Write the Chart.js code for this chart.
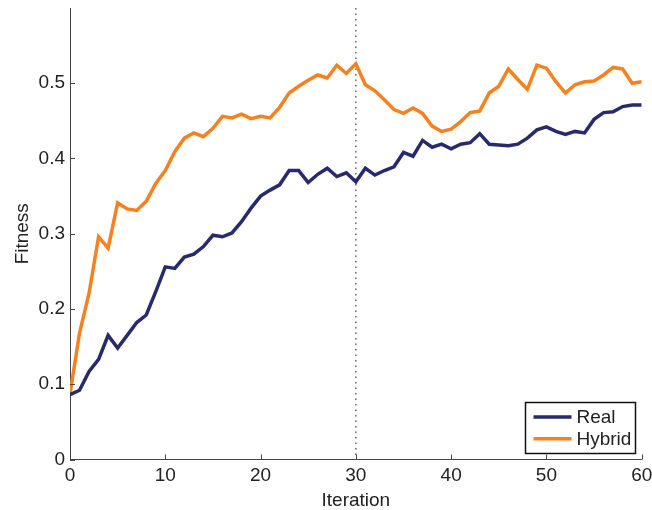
<!DOCTYPE html>
<html>
<head>
<meta charset="utf-8">
<script src="https://cdn.jsdelivr.net/npm/chart.js@4/dist/chart.umd.min.js"></script>
<style>
  html, body { margin: 0; padding: 0; background: #fff; }
  #wrap { width: 652px; height: 510px; }
</style>
</head>
<body>
<div id="wrap"><canvas id="fitnessChart" width="652" height="510"></canvas></div>
<script>
const iterations = [
    0, 1, 2, 3, 4, 5, 6, 7, 8, 9, 10,
    11, 12, 13, 14, 15, 16, 17, 18, 19, 20,
    21, 22, 23, 24, 25, 26, 27, 28, 29, 30,
    31, 32, 33, 34, 35, 36, 37, 38, 39, 40,
    41, 42, 43, 44, 45, 46, 47, 48, 49, 50,
    51, 52, 53, 54, 55, 56, 57, 58, 59, 60
];
const realFitness = [
    0.086, 0.092, 0.117, 0.133, 0.165, 0.148, 0.165, 0.182, 0.192, 0.223, 0.256,
    0.254, 0.269, 0.273, 0.283, 0.298, 0.296, 0.301, 0.316, 0.334, 0.350,
    0.358, 0.365, 0.384, 0.384, 0.368, 0.379, 0.387, 0.376, 0.381, 0.369,
    0.387, 0.378, 0.384, 0.389, 0.408, 0.403, 0.424, 0.415, 0.419, 0.413,
    0.419, 0.421, 0.433, 0.419, 0.418, 0.417, 0.419, 0.427, 0.438, 0.442,
    0.436, 0.432, 0.436, 0.434, 0.452, 0.461, 0.462, 0.469, 0.471, 0.471
];
const hybridFitness = [
    0.087, 0.168, 0.221, 0.296, 0.281, 0.341, 0.333, 0.331, 0.343, 0.367, 0.384,
    0.409, 0.427, 0.434, 0.429, 0.440, 0.456, 0.454, 0.459, 0.453, 0.456,
    0.454, 0.468, 0.487, 0.496, 0.504, 0.511, 0.507, 0.524, 0.513, 0.526,
    0.498, 0.490, 0.478, 0.465, 0.460, 0.467, 0.460, 0.443, 0.436, 0.439,
    0.449, 0.461, 0.463, 0.487, 0.496, 0.519, 0.505, 0.492, 0.524, 0.520,
    0.502, 0.487, 0.498, 0.502, 0.503, 0.511, 0.521, 0.519, 0.500, 0.502
];
const xTicks = [0, 10, 20, 30, 40, 50, 60];
const yTicks = [0, 0.1, 0.2, 0.3, 0.4, 0.5];
const markerIteration = 30;

const FONT = "'Liberation Sans', Arial, Helvetica, sans-serif";
const TEXT_COLOR = "#222";
const AXIS_COLOR = "#444";

const toPoints = (values) => values.map((v, i) => ({ x: iterations[i], y: v }));

// keep the plot box where the layout padding puts it (no room reserved for edge labels)
function noEdgePadding(scale) {
    scale.paddingTop = 0;
    scale.paddingBottom = 0;
    scale.paddingLeft = 0;
    scale.paddingRight = 0;
}

// inward tick marks, dotted marker line and the boxed legend
const decorations = {
    id: "decorations",
    beforeDatasetsDraw(chart) {
        const { ctx, chartArea, scales } = chart;
        const x = scales.x.getPixelForValue(markerIteration);
        ctx.save();
        ctx.strokeStyle = "#666";
        ctx.lineWidth = 1.5;
        ctx.setLineDash([1.5, 4]);
        ctx.beginPath();
        ctx.moveTo(x, chartArea.top);
        ctx.lineTo(x, chartArea.bottom);
        ctx.stroke();
        ctx.restore();
    },
    afterDraw(chart) {
        const { ctx, chartArea, scales } = chart;
        ctx.save();
        ctx.strokeStyle = AXIS_COLOR;
        ctx.lineWidth = 1;
        ctx.beginPath();
        xTicks.forEach(t => {
            const px = Math.round(scales.x.getPixelForValue(t)) + 0.5;
            ctx.moveTo(px, chartArea.bottom);
            ctx.lineTo(px, chartArea.bottom - 5);
        });
        yTicks.forEach(t => {
            const py = Math.round(scales.y.getPixelForValue(t)) + 0.5;
            ctx.moveTo(chartArea.left, py);
            ctx.lineTo(chartArea.left + 5, py);
        });
        ctx.stroke();

        // legend
        const box = { left: 525.5, top: 402.5, width: 110, height: 51 };
        ctx.fillStyle = "#fff";
        ctx.fillRect(box.left, box.top, box.width, box.height);
        ctx.strokeStyle = "#111";
        ctx.lineWidth = 1.5;
        ctx.strokeRect(box.left, box.top, box.width, box.height);
        ctx.font = "19px " + FONT;
        ctx.textBaseline = "middle";
        ctx.textAlign = "left";
        chart.data.datasets.forEach((ds, i) => {
            const y = box.top + 14.5 + i * 21.7;
            ctx.strokeStyle = ds.borderColor;
            ctx.lineWidth = 3.5;
            ctx.beginPath();
            ctx.moveTo(box.left + 8, y);
            ctx.lineTo(box.left + 46, y);
            ctx.stroke();
            ctx.fillStyle = TEXT_COLOR;
            ctx.fillText(ds.label, box.left + 51, y + 1);
        });
        ctx.restore();
    }
};

new Chart(document.getElementById("fitnessChart").getContext("2d"), {
    type: "line",
    data: {
        datasets: [
            {
                label: "Real",
                data: toPoints(realFitness),
                borderColor: "#29296e",
                borderWidth: 3.5,
                pointRadius: 0,
                tension: 0,
                fill: false
            },
            {
                label: "Hybrid",
                data: toPoints(hybridFitness),
                borderColor: "#f68121",
                borderWidth: 3.5,
                pointRadius: 0,
                tension: 0,
                fill: false
            }
        ]
    },
    options: {
        responsive: false,
        animation: false,
        events: [],
        layout: { padding: { top: 8, right: 10.3, left: 0, bottom: 0 } },
        plugins: {
            legend: { display: false },
            tooltip: { enabled: false }
        },
        scales: {
            x: {
                type: "linear",
                min: 0,
                max: 60,
                afterBuildTicks: (scale) => { scale.ticks = xTicks.map(v => ({ value: v })); },
                afterFit: (scale) => { scale.height = 50.5; noEdgePadding(scale); },
                grid: { display: false, drawTicks: false },
                border: { display: true, color: AXIS_COLOR, width: 1 },
                ticks: {
                    color: TEXT_COLOR,
                    font: { family: FONT, size: 19 },
                    padding: 5,
                    maxRotation: 0
                },
                title: {
                    display: true,
                    text: "Iteration",
                    color: TEXT_COLOR,
                    font: { family: FONT, size: 19, lineHeight: 1 },
                    padding: { top: 0, bottom: 0 }
                }
            },
            y: {
                type: "linear",
                min: 0,
                max: 0.6,
                afterBuildTicks: (scale) => { scale.ticks = yTicks.map(v => ({ value: v })); },
                afterFit: (scale) => { scale.width = 70; noEdgePadding(scale); },
                grid: { display: false, drawTicks: false },
                border: { display: true, color: AXIS_COLOR, width: 1 },
                ticks: {
                    color: TEXT_COLOR,
                    font: { family: FONT, size: 19 },
                    padding: 5,
                    callback: (v) => String(Math.round(v * 10) / 10)
                },
                title: {
                    display: true,
                    text: "Fitness",
                    color: TEXT_COLOR,
                    font: { family: FONT, size: 19 },
                    padding: { top: 11, bottom: 0 }
                }
            }
        }
    },
    plugins: [decorations]
});
</script>
</body>
</html>
